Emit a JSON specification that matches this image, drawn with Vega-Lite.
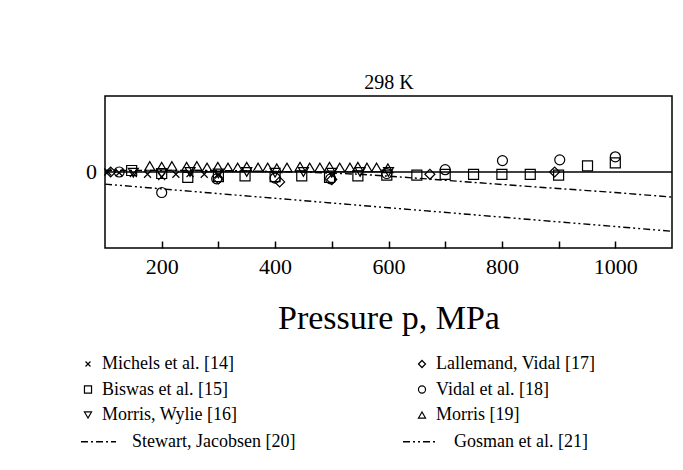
{
  "$schema": "https://vega.github.io/schema/vega-lite/v6.json",
  "width": 567,
  "height": 152,
  "autosize": {"type": "none"},
  "padding": {"left": 105, "top": 96, "right": 11, "bottom": 222},
  "background": "white",
  "config": {
    "font": "Liberation Serif",
    "view": {"stroke": "black", "strokeWidth": 1.5, "fill": null},
    "axis": {
      "grid": false,
      "domain": false,
      "ticks": true,
      "tickColor": "black",
      "tickOpacity": 1,
      "tickWidth": 1.5,
      "tickSize": 7,
      "offset": -7,
      "labelColor": "black",
      "labelFont": "Liberation Serif",
      "labelFontSize": 22,
      "labelOverlap": false,
      "titleColor": "black",
      "titleFont": "Liberation Serif",
      "titleFontWeight": "normal"
    },
    "legend": {
      "orient": "none",
      "rowPadding": 7.5,
      "labelFont": "Liberation Serif",
      "labelFontSize": 18,
      "labelColor": "black",
      "labelLimit": 400,
      "symbolStrokeColor": "black",
      "symbolStrokeWidth": 1.2,
      "symbolFillColor": "transparent"
    }
  },
  "datasets": {
    "points": [
      {"series": "Michels et al. [14]", "p": 105, "dev": 0.0},
      {"series": "Michels et al. [14]", "p": 125, "dev": -0.01},
      {"series": "Michels et al. [14]", "p": 150, "dev": -0.02},
      {"series": "Michels et al. [14]", "p": 175, "dev": -0.03},
      {"series": "Michels et al. [14]", "p": 200, "dev": -0.06},
      {"series": "Michels et al. [14]", "p": 225, "dev": -0.03},
      {"series": "Michels et al. [14]", "p": 250, "dev": -0.02},
      {"series": "Michels et al. [14]", "p": 275, "dev": -0.03},
      {"series": "Michels et al. [14]", "p": 300, "dev": -0.04},
      {"series": "Lallemand, Vidal [17]", "p": 110, "dev": 0.0},
      {"series": "Lallemand, Vidal [17]", "p": 300, "dev": -0.09},
      {"series": "Lallemand, Vidal [17]", "p": 408, "dev": -0.13},
      {"series": "Lallemand, Vidal [17]", "p": 500, "dev": -0.1},
      {"series": "Lallemand, Vidal [17]", "p": 673, "dev": -0.03},
      {"series": "Lallemand, Vidal [17]", "p": 893, "dev": 0.0},
      {"series": "Biswas et al. [15]", "p": 147, "dev": 0.02},
      {"series": "Biswas et al. [15]", "p": 200, "dev": -0.02},
      {"series": "Biswas et al. [15]", "p": 246, "dev": -0.07},
      {"series": "Biswas et al. [15]", "p": 300, "dev": -0.06},
      {"series": "Biswas et al. [15]", "p": 347, "dev": -0.05},
      {"series": "Biswas et al. [15]", "p": 400, "dev": -0.06},
      {"series": "Biswas et al. [15]", "p": 447, "dev": -0.05},
      {"series": "Biswas et al. [15]", "p": 496, "dev": -0.07},
      {"series": "Biswas et al. [15]", "p": 546, "dev": -0.05},
      {"series": "Biswas et al. [15]", "p": 597, "dev": -0.04},
      {"series": "Biswas et al. [15]", "p": 650, "dev": -0.04},
      {"series": "Biswas et al. [15]", "p": 700, "dev": -0.03},
      {"series": "Biswas et al. [15]", "p": 750, "dev": -0.03},
      {"series": "Biswas et al. [15]", "p": 800, "dev": -0.03},
      {"series": "Biswas et al. [15]", "p": 850, "dev": -0.03},
      {"series": "Biswas et al. [15]", "p": 900, "dev": -0.04},
      {"series": "Biswas et al. [15]", "p": 951, "dev": 0.08},
      {"series": "Biswas et al. [15]", "p": 1000, "dev": 0.12},
      {"series": "Vidal et al. [18]", "p": 125, "dev": 0.0},
      {"series": "Vidal et al. [18]", "p": 200, "dev": -0.27},
      {"series": "Vidal et al. [18]", "p": 297, "dev": -0.09},
      {"series": "Vidal et al. [18]", "p": 400, "dev": -0.08},
      {"series": "Vidal et al. [18]", "p": 498, "dev": -0.09},
      {"series": "Vidal et al. [18]", "p": 597, "dev": -0.02},
      {"series": "Vidal et al. [18]", "p": 700, "dev": 0.03},
      {"series": "Vidal et al. [18]", "p": 801, "dev": 0.15},
      {"series": "Vidal et al. [18]", "p": 902, "dev": 0.16},
      {"series": "Vidal et al. [18]", "p": 1000, "dev": 0.2},
      {"series": "Morris, Wylie [16]", "p": 150, "dev": -0.01},
      {"series": "Morris, Wylie [16]", "p": 200, "dev": -0.02},
      {"series": "Morris, Wylie [16]", "p": 250, "dev": 0.0},
      {"series": "Morris, Wylie [16]", "p": 300, "dev": -0.02},
      {"series": "Morris, Wylie [16]", "p": 350, "dev": 0.0},
      {"series": "Morris, Wylie [16]", "p": 400, "dev": -0.01},
      {"series": "Morris, Wylie [16]", "p": 450, "dev": 0.0},
      {"series": "Morris, Wylie [16]", "p": 500, "dev": -0.01},
      {"series": "Morris, Wylie [16]", "p": 550, "dev": 0.0},
      {"series": "Morris, Wylie [16]", "p": 600, "dev": 0.0},
      {"series": "Morris [19]", "p": 179, "dev": 0.08},
      {"series": "Morris [19]", "p": 200, "dev": 0.07},
      {"series": "Morris [19]", "p": 218, "dev": 0.08},
      {"series": "Morris [19]", "p": 244, "dev": 0.07},
      {"series": "Morris [19]", "p": 262, "dev": 0.08},
      {"series": "Morris [19]", "p": 280, "dev": 0.06},
      {"series": "Morris [19]", "p": 299, "dev": 0.07},
      {"series": "Morris [19]", "p": 317, "dev": 0.06},
      {"series": "Morris [19]", "p": 334, "dev": 0.06},
      {"series": "Morris [19]", "p": 350, "dev": 0.07},
      {"series": "Morris [19]", "p": 370, "dev": 0.06},
      {"series": "Morris [19]", "p": 387, "dev": 0.06},
      {"series": "Morris [19]", "p": 403, "dev": 0.05},
      {"series": "Morris [19]", "p": 421, "dev": 0.06},
      {"series": "Morris [19]", "p": 444, "dev": 0.07},
      {"series": "Morris [19]", "p": 461, "dev": 0.06},
      {"series": "Morris [19]", "p": 479, "dev": 0.06},
      {"series": "Morris [19]", "p": 496, "dev": 0.07},
      {"series": "Morris [19]", "p": 514, "dev": 0.06},
      {"series": "Morris [19]", "p": 532, "dev": 0.06},
      {"series": "Morris [19]", "p": 546, "dev": 0.07},
      {"series": "Morris [19]", "p": 562, "dev": 0.06},
      {"series": "Morris [19]", "p": 579, "dev": 0.06},
      {"series": "Morris [19]", "p": 599, "dev": 0.05}
    ],
    "curves": [
      {"curve": "Stewart, Jacobsen [20]", "p": 100, "dev": 0.02},
      {"curve": "Stewart, Jacobsen [20]", "p": 300, "dev": 0.02},
      {"curve": "Stewart, Jacobsen [20]", "p": 450, "dev": 0.0},
      {"curve": "Stewart, Jacobsen [20]", "p": 550, "dev": -0.03},
      {"curve": "Stewart, Jacobsen [20]", "p": 620, "dev": -0.065},
      {"curve": "Stewart, Jacobsen [20]", "p": 720, "dev": -0.12},
      {"curve": "Stewart, Jacobsen [20]", "p": 866, "dev": -0.2},
      {"curve": "Stewart, Jacobsen [20]", "p": 1000, "dev": -0.27},
      {"curve": "Stewart, Jacobsen [20]", "p": 1100, "dev": -0.33},
      {"curve": "Gosman et al. [21]", "p": 100, "dev": -0.16},
      {"curve": "Gosman et al. [21]", "p": 600, "dev": -0.47},
      {"curve": "Gosman et al. [21]", "p": 1100, "dev": -0.78}
    ],
    "zeroline": [{"dev": 0, "lab": "0"}]
  },
  "layer": [
    {
      "data": {"name": "curves"},
      "mark": {"type": "line", "color": "black", "strokeWidth": 1.4},
      "encoding": {
        "x": {"field": "p", "type": "quantitative", "scale": {"domain": [100, 1100], "nice": false, "zero": false},
          "axis": {"orient": "bottom", "values": [200, 300, 400, 500, 600, 700, 800, 900, 1000], "format": "d", "labelOverlap": false, "labelFlush": false, "labelExpr": "datum.value % 200 == 0 ? datum.label : ''", "labelPadding": 8, "title": "Pressure p, MPa", "titleFontSize": 34, "titleY": 77, "titleBaseline": "middle"}},
        "y": {"field": "dev", "type": "quantitative", "scale": {"domain": [-1, 1], "nice": false},
          "axis": {"values": [-1, 0, 1], "format": "d", "labelOverlap": false, "labelFlush": false, "labelPadding": 8, "title": "100\u00a0(\u00a0\u00a0ρexpt\u00a0\u00a0\u00a0−\u00a0\u00a0\u00a0ρcalc\u00a0\u00a0)\u00a0\u00a0/\u00a0\u00a0ρexpt", "titleFontSize": 32, "titleX": -90, "titleY": 139, "titleBaseline": "middle", "titleAlign": "center"}},
        "strokeDash": {"field": "curve", "type": "nominal",
          "scale": {"domain": ["Stewart, Jacobsen [20]", "Gosman et al. [21]"], "range": [[7, 3, 2, 3], [7, 3, 2, 3, 2, 3]]},
          "legend": {"title": null, "columns": 2, "columnPadding": 104, "legendX": -25, "legendY": 327, "symbolType": "stroke", "symbolSize": 1225, "labelOffset": 15, "symbolStrokeWidth": 1.3}}
      }
    },
    {
      "data": {"name": "zeroline"},
      "mark": {"type": "rule", "color": "black", "strokeWidth": 1.4},
      "encoding": {"y": {"field": "dev", "type": "quantitative"}}
    },
    {
      "data": {"name": "points"},
      "mark": {"type": "point", "filled": false, "color": "black", "size": 100, "strokeWidth": 1.2, "opacity": 1},
      "encoding": {
        "x": {"field": "p", "type": "quantitative",
          "axis": {"orient": "top", "title": "298 K", "labels": false, "ticks": false, "domain": false, "offset": 0, "titleFontSize": 20, "titlePadding": 4}},
        "y": {"field": "dev", "type": "quantitative"},
        "shape": {"field": "series", "type": "nominal",
          "scale": {
            "domain": ["Michels et al. [14]", "Biswas et al. [15]", "Morris, Wylie [16]", "Lallemand, Vidal [17]", "Vidal et al. [18]", "Morris [19]"],
            "range": ["M-0.7,-0.7L0.7,0.7M-0.7,0.7L0.7,-0.7", "square", "triangle-down", "diamond", "circle", "triangle-up"]
          },
          "legend": {"title": null, "columns": 2, "columnPadding": 175, "legendX": -26, "legendY": 259, "symbolSize": 50, "labelOffset": 5}
        }
      }
    },
    {
      "data": {"name": "zeroline"},
      "mark": {"type": "text", "align": "right", "baseline": "middle", "dx": -8, "fontSize": 22, "font": "Liberation Serif", "color": "black", "clip": false},
      "encoding": {
        "x": {"datum": 100, "type": "quantitative", "axis": null},
        "y": {"field": "dev", "type": "quantitative", "axis": null},
        "text": {"field": "lab"}
      }
    }
  ]
}
